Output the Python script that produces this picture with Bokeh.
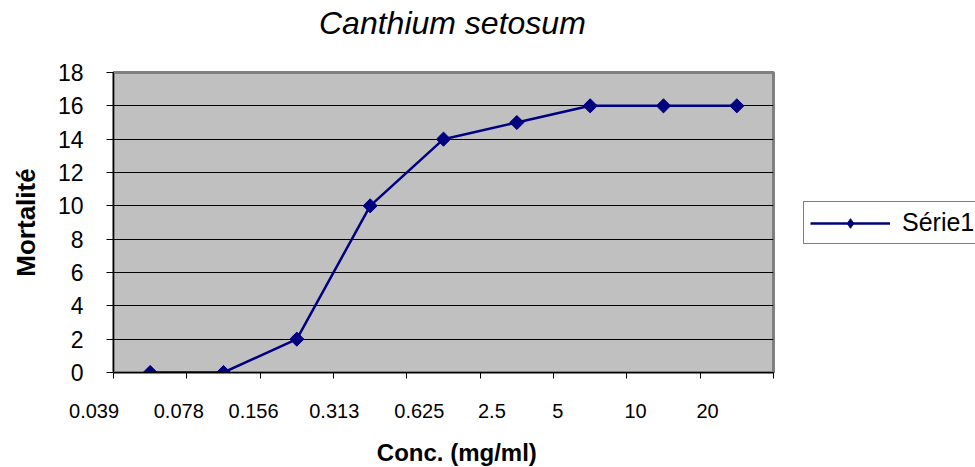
import math
from bokeh.plotting import figure
from bokeh.models import (ColumnDataSource, FixedTicker, Legend, LegendItem,
                          Range1d, LinearAxis)
from bokeh.embed import file_html
from bokeh.resources import INLINE

# ---- data ----
concentrations = ["0.039", "0.078", "0.156", "0.313", "0.625", "2.5", "5", "10", "20"]
mortality = [0, 0, 2, 10, 14, 15, 16, 16, 16]
y_ticks = [0, 2, 4, 6, 8, 10, 12, 14, 16, 18]
series_name = "Série1"
title_text = "Canthium setosum"
x_title = "Conc. (mg/ml)"
y_title = "Mortalité"

# where each concentration label is centred (category units) - as drawn in the original
label_pos = [0.5, 1.39, 2.41, 3.51, 4.67, 5.66, 6.56, 7.62, 8.60]
NBSP = "\u00a0"

FONT = "Liberation Sans"
NAVY = "#000080"

n = len(concentrations)
xs = list(range(1, n + 1))
src = ColumnDataSource(dict(x=xs, y=mortality))

p = figure(output_backend="svg", toolbar_location=None,
           frame_width=660, frame_height=300,
           min_border_left=113, min_border_right=202,
           min_border_top=72, min_border_bottom=95,
           x_range=Range1d(0.5, n + 0.5), y_range=Range1d(y_ticks[0], y_ticks[-1]),
           background_fill_color="#C0C0C0", border_fill_color="white")

p.outline_line_color = "#808080"
p.outline_line_width = 3

# grid
p.xgrid.visible = False
p.ygrid.grid_line_color = "black"
p.ygrid.grid_line_width = 1.2
p.ygrid.ticker = FixedTicker(ticks=y_ticks[1:-1])

# y axis
p.yaxis.ticker = FixedTicker(ticks=y_ticks)
p.yaxis.axis_line_color = "black"
p.yaxis.major_tick_line_color = "black"
p.yaxis.major_tick_out = 7
p.yaxis.major_tick_in = 0
p.yaxis.minor_tick_line_color = None
p.yaxis.major_label_text_font = FONT
p.yaxis.major_label_text_font_size = "23px"
p.yaxis.major_label_text_color = "black"
p.yaxis.major_label_standoff = 23
p.yaxis.axis_label = y_title
p.yaxis.axis_label_text_font = FONT
p.yaxis.axis_label_text_font_size = "26px"
p.yaxis.axis_label_text_font_style = "bold"
p.yaxis.axis_label_text_color = "black"
p.yaxis.axis_label_standoff = 14

# x axis: unlabelled (minor) ticks on category boundaries, labels from label_pos
overrides = {pos: lab for pos, lab in zip(label_pos, concentrations)}
overrides[label_pos[0]] = concentrations[0] + NBSP * 7   # first label sits left of the axis start
p.xaxis.ticker = FixedTicker(ticks=label_pos,
                             minor_ticks=[i + 0.5 for i in range(n + 1)])
p.xaxis.major_label_overrides = overrides
p.xaxis.axis_line_color = "black"
p.xaxis.major_tick_line_color = None
p.xaxis.major_tick_out = 0
p.xaxis.major_tick_in = 0
p.xaxis.minor_tick_line_color = "black"
p.xaxis.minor_tick_out = 6
p.xaxis.minor_tick_in = 0
p.xaxis.major_label_standoff = 21
p.xaxis.major_label_text_font = FONT
p.xaxis.major_label_text_font_size = "20px"
p.xaxis.major_label_text_color = "black"
p.xaxis.axis_label = NBSP * 4 + x_title
p.xaxis.axis_label_text_font = FONT
p.xaxis.axis_label_text_font_size = "24px"
p.xaxis.axis_label_text_font_style = "bold"
p.xaxis.axis_label_text_color = "black"
p.xaxis.axis_label_standoff = 14

# chart title carried by a bare axis above the plot area
top = LinearAxis(ticker=FixedTicker(ticks=[]), axis_label=NBSP * 2 + title_text)
top.axis_line_color = None
top.major_tick_line_color = None
top.minor_tick_line_color = None
top.major_tick_out = 0
top.minor_tick_out = 0
top.major_label_standoff = 0
top.axis_label_standoff = 32
top.axis_label_text_font = FONT
top.axis_label_text_font_size = "32px"
top.axis_label_text_font_style = "italic"
top.axis_label_text_color = "black"
p.add_layout(top, "above")

# series
r_line = p.line("x", "y", source=src, line_color=NAVY, line_width=2.5)
r_pts = p.scatter("x", "y", source=src, marker="square", angle=math.pi / 4,
                  size=10, fill_color=NAVY, line_color=NAVY)
r_key = p.scatter("x", "y", source=src, marker="diamond", size=12,
                  fill_color=NAVY, line_color=NAVY)

legend = Legend(items=[LegendItem(label=series_name, renderers=[r_line, r_key])],
                location=(30, 128), orientation="vertical",
                border_line_color="black", border_line_width=1.5,
                background_fill_color="white", background_fill_alpha=1,
                padding=6, margin=0, spacing=0,
                glyph_width=80, glyph_height=24, label_height=24,
                label_standoff=12, label_text_font=FONT,
                label_text_font_size="25px", label_text_color="black")
p.add_layout(legend, "right")

open("out.html", "w").write(file_html(p, INLINE))
